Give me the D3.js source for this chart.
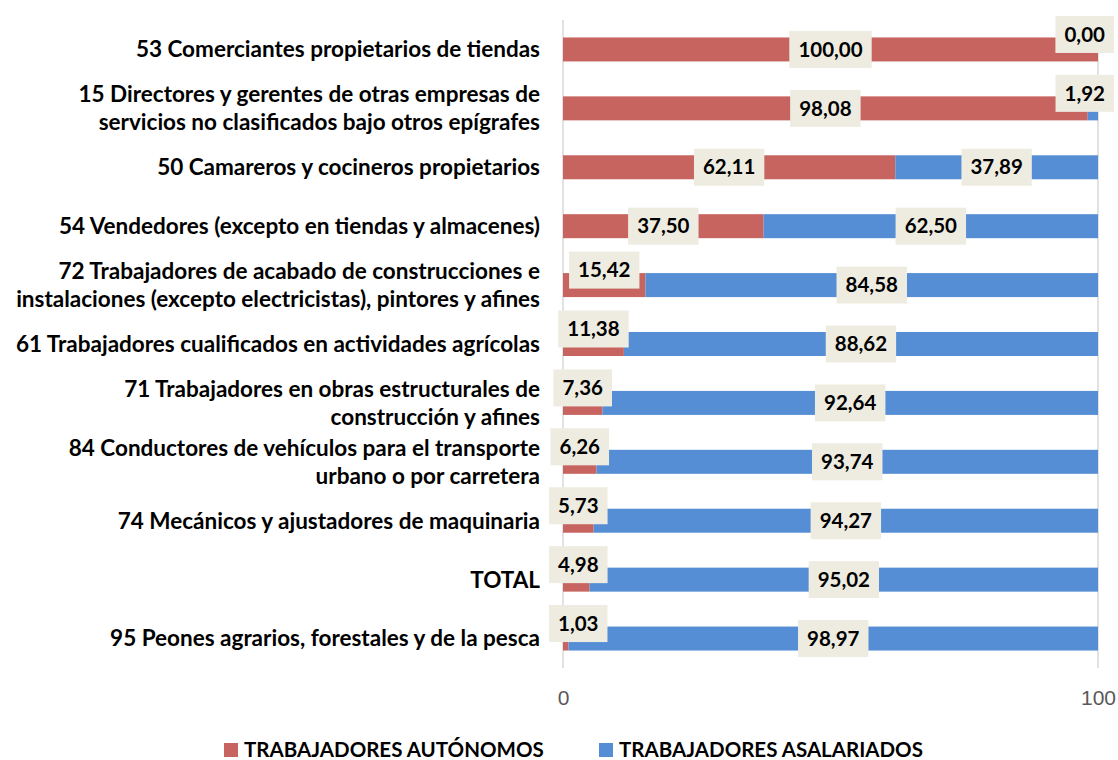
<!DOCTYPE html>
<html>
  <head>
    <meta charset="utf-8">
    <title>Autónomos y asalariados por ocupación</title>
    <script src="https://d3js.org/d3.v7.min.js"></script>
    <style>
      body { margin: 0; background: #fff; }
      svg { display: block; font-family: Lato, "Open Sans", sans-serif; }
      .cat { font-weight: bold; font-size: 22.5px; fill: #000; }
      .val { font-weight: bold; font-size: 20.5px; fill: #000; }
      .tick text { font-size: 21px; fill: #595959; }
      .legend text { font-weight: bold; font-size: 20.5px; fill: #000; }
    </style>
  </head>
  <body>
    <svg id="chart" width="1118" height="760"></svg>
    <script>
      // chart data
      var categories = [
        "53 Comerciantes propietarios de tiendas",
        "15 Directores y gerentes de otras empresas de\nservicios no clasificados bajo otros epígrafes",
        "50 Camareros y cocineros propietarios",
        "54 Vendedores (excepto en tiendas y almacenes)",
        "72 Trabajadores de acabado de construcciones e\ninstalaciones (excepto electricistas), pintores y afines",
        "61 Trabajadores cualificados en actividades agrícolas",
        "71 Trabajadores en obras estructurales de\nconstrucción y afines",
        "84 Conductores de vehículos para el transporte\nurbano o por carretera",
        "74 Mecánicos y ajustadores de maquinaria",
        "TOTAL",
        "95 Peones agrarios, forestales y de la pesca"
      ];
      var autonomos = [100.00, 98.08, 62.11, 37.50, 15.42, 11.38, 7.36, 6.26, 5.73, 4.98, 1.03];
      var asalariados = [0.00, 1.92, 37.89, 62.50, 84.58, 88.62, 92.64, 93.74, 94.27, 95.02, 98.97];
      var seriesNames = ["TRABAJADORES AUTÓNOMOS", "TRABAJADORES ASALARIADOS"];
      var tickValues = [0, 100];

      var colors = ["#C8645F", "#558ED5"];
      var chart = d3.select("#chart");

      var x = d3.scaleLinear().domain([0, 100]).range([563, 1098]);
      var y = d3.scaleBand().domain(categories).range([20, 668]).padding(0);
      var barH = 24;

      // build stacked segments
      var segments = [];
      categories.forEach(function(c, i) {
        var vals = [autonomos[i], asalariados[i]];
        var start = 0;
        vals.forEach(function(v, s) {
          segments.push({ cat: c, series: s, v: v, x0: start, x1: start + v });
          start += v;
        });
      });

      // gridlines
      chart.append("g").selectAll("line")
        .data(tickValues)
        .enter().append("line")
          .attr("x1", function(d) { return x(d); })
          .attr("x2", function(d) { return x(d); })
          .attr("y1", 20)
          .attr("y2", 668)
          .attr("stroke", "#D9D9D9")
          .attr("stroke-width", 1.5);

      // bars
      chart.append("g").selectAll("rect")
        .data(segments.filter(function(d) { return d.v > 0; }))
        .enter().append("rect")
          .attr("x", function(d) { return x(d.x0); })
          .attr("width", function(d) { return x(d.x1) - x(d.x0); })
          .attr("y", function(d) { return y(d.cat) + y.bandwidth() / 2 - barH / 2; })
          .attr("height", barH)
          .attr("fill", function(d) { return colors[d.series]; });

      // value labels
      var fmt = function(v) { return v.toFixed(2).replace(".", ","); };
      var labels = chart.append("g").selectAll("g")
        .data(segments)
        .enter().append("g");
      labels.append("rect").attr("fill", "#EEECE1");
      labels.append("text")
        .attr("class", "val")
        .attr("text-anchor", "middle")
        .attr("dy", "0.35em")
        .text(function(d) { return fmt(d.v); });
      labels.each(function(d) {
        var g = d3.select(this);
        var w = g.select("text").node().getBBox().width + 18;
        var h = 37;
        var cx = x((d.x0 + d.x1) / 2);
        var cy = y(d.cat) + y.bandwidth() / 2;
        if (d.v < 20) {
          cy -= 15;
          cx = Math.max(cx, 549 + w / 2);
          cx = Math.min(cx, 1114 - w / 2);
        }
        g.attr("transform", "translate(" + cx + "," + cy + ")");
        g.select("rect")
          .attr("x", -w / 2).attr("y", -h / 2)
          .attr("width", w).attr("height", h);
      });

      // category labels
      var lineH = 28;
      var cats = chart.append("g").selectAll("text")
        .data(categories)
        .enter().append("text")
          .attr("class", "cat")
          .attr("text-anchor", "end");
      cats.each(function(d) {
        var lines = d.split("\n");
        var t = d3.select(this);
        var cy = y(d) + y.bandwidth() / 2;
        lines.forEach(function(l, i) {
          t.append("tspan")
            .attr("x", 540)
            .attr("y", cy + (i - (lines.length - 1) / 2) * lineH)
            .attr("dy", "0.35em")
            .text(l);
        });
      });

      // axis
      var axis = d3.axisBottom(x).tickValues(tickValues).tickSize(0).tickPadding(0);
      var axisGroup = chart.append("g")
        .attr("transform", "translate(0,690)")
        .call(axis);
      axisGroup.select(".domain").remove();
      axisGroup.selectAll("text").attr("font-family", null).attr("font-size", null);

      // legend
      var legendX = [224, 599];
      var legend = chart.append("g").attr("class", "legend")
        .selectAll("g")
        .data(seriesNames)
        .enter().append("g")
          .attr("transform", function(d, i) { return "translate(" + legendX[i] + ",750)"; });
      legend.append("rect")
        .attr("x", 0).attr("y", -7)
        .attr("width", 14).attr("height", 14)
        .attr("fill", function(d, i) { return colors[i]; });
      legend.append("text")
        .attr("x", 20)
        .attr("dy", "0.35em")
        .text(function(d) { return d; });
    </script>
  </body>
</html>
